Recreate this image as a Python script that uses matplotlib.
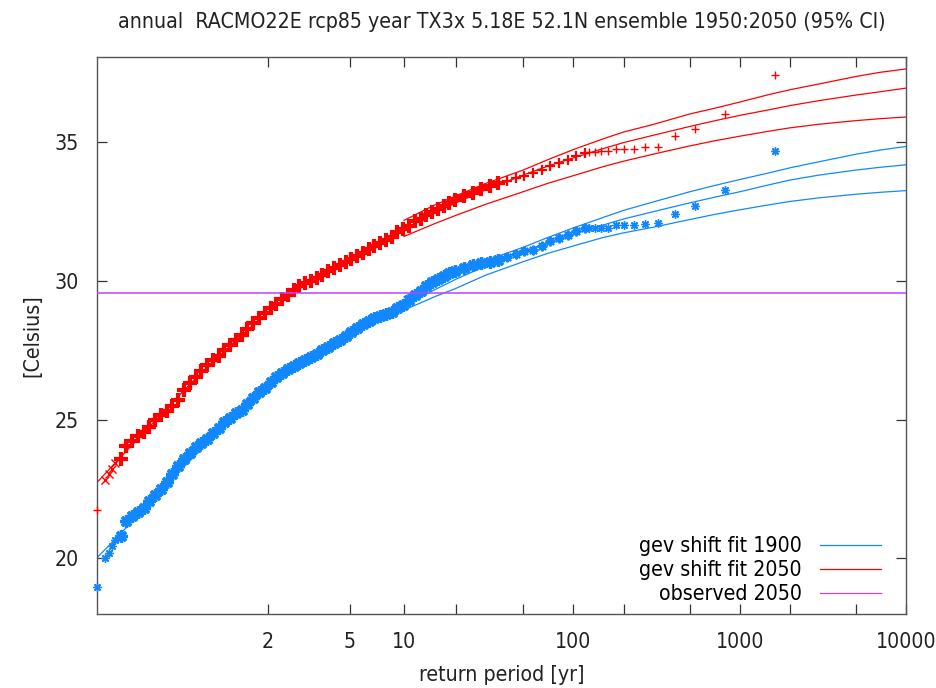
"""Return-period plot, RACMO22E rcp85 TX3x ensemble: GEV shift fits for 1900 and 2050."""
import numpy as np
import matplotlib

matplotlib.use("Agg")
import matplotlib.pyplot as plt
from matplotlib.lines import Line2D
from matplotlib.ticker import FixedLocator, FixedFormatter, NullLocator

RED = "#ff0000"
BLUE = "#1188ff"
PURPLE = "#c040ff"

# ranked ensemble values, plotted at their return period [yr]
period = [
    1.00062, 1.00124, 1.00186, 1.00248, 1.0031,
    1.0047, 1.0071, 1.0105, 1.0149, 1.0207, 1.0282, 1.0375, 1.0489, 1.0628, 1.0792,
    1.0986, 1.1211, 1.1470, 1.1766, 1.2101, 1.2479, 1.2903, 1.3374, 1.3898, 1.4478,
    1.5117, 1.5820, 1.6592, 1.7437, 1.8361, 1.9370, 2.0473, 2.1674, 2.2980, 2.4403,
    2.5950, 2.7628, 2.9456, 3.1440, 3.3591, 3.5927, 3.8459, 4.1190, 4.4178, 4.7407,
    5.0911, 5.4696, 5.8813, 6.3267, 6.8097, 7.3330, 7.9002, 8.5150, 9.1802, 9.9020,
    10.684, 11.531, 12.449, 13.443, 14.520, 15.686, 16.949, 18.318, 19.802, 22.26,
    25.04, 28.17, 31.70, 35.66, 40.15, 45.21, 50.89, 57.32, 64.56, 72.78,
    81.97, 92.34, 104.1, 117.2,
    124.4, 134.8, 147.0, 161.7, 179.7, 202.1, 231.0, 269.5, 323.4, 404.3, 539.0, 808.5, 1617.0,
]
obs_2050 = [
    21.76, 22.82, 23.05, 23.22, 23.45,
    23.57, 24.05, 24.22, 24.40, 24.56, 24.74, 24.98, 25.17, 25.30, 25.50,
    25.72, 26.05, 26.32, 26.52, 26.75, 26.96, 27.13, 27.30, 27.50, 27.68,
    27.86, 28.05, 28.25, 28.47, 28.66, 28.84, 29.00, 29.17, 29.33, 29.50,
    29.65, 29.80, 29.90, 30.00, 30.10, 30.21, 30.33, 30.45, 30.58, 30.68,
    30.78, 30.88, 31.01, 31.14, 31.25, 31.35, 31.46, 31.57, 31.74, 31.86,
    31.97, 32.13, 32.22, 32.36, 32.47, 32.57, 32.68, 32.78, 32.90, 33.04,
    33.17, 33.30, 33.40, 33.50, 33.59, 33.68, 33.77, 33.87, 33.98, 34.11,
    34.24, 34.36, 34.47, 34.58,
    34.62, 34.64, 34.65, 34.65, 34.75, 34.75, 34.75, 34.81, 34.81, 35.19, 35.47, 36.01, 37.41,
]
obs_1900 = [
    18.98, 20.00, 20.20, 20.45, 20.65,
    20.80, 21.35, 21.52, 21.66, 21.83, 22.06, 22.30, 22.50, 22.74, 23.04,
    23.32, 23.58, 23.80, 24.00, 24.14, 24.30, 24.50, 24.70, 24.90, 25.06,
    25.22, 25.36, 25.55, 25.78, 25.98, 26.15, 26.35, 26.52, 26.67, 26.82,
    26.93, 27.03, 27.13, 27.24, 27.37, 27.50, 27.62, 27.74, 27.87, 28.00,
    28.15, 28.30, 28.43, 28.56, 28.67, 28.74, 28.80, 28.86, 29.00, 29.14,
    29.32, 29.50, 29.64, 29.80, 29.94, 30.06, 30.16, 30.26, 30.35, 30.47,
    30.56, 30.62, 30.68, 30.75, 30.85, 30.97, 31.05, 31.11, 31.25, 31.41,
    31.54, 31.66, 31.77, 31.88,
    31.90, 31.90, 31.90, 31.90, 31.99, 31.99, 31.99, 32.04, 32.08, 32.40, 32.67, 33.25, 34.68,
]

# fitted return levels
fit_period = [
    1.0006, 1.003, 1.01, 1.03, 1.1, 1.2, 1.4, 1.6, 2, 2.5, 3, 4, 5, 7,
    10, 15, 20, 30, 50, 70, 100, 150, 200, 300, 500, 700, 1000, 1500, 2000, 3000,
    5000, 7000, 10000,
]
fit_2050 = [
    22.74, 23.42, 24.05, 24.78, 25.85, 26.62, 27.50, 28.08, 28.85, 29.47, 29.90, 30.45,
    30.82, 31.32, 31.85, 32.42, 32.80, 33.27, 33.80, 34.12, 34.42, 34.75, 34.97, 35.23,
    35.55, 35.75, 35.95, 36.15, 36.30, 36.48, 36.68, 36.80, 36.93,
]
fit_1900 = [
    20.03, 20.68, 21.30, 22.04, 23.10, 23.88, 24.76, 25.34, 26.10, 26.72, 27.15, 27.70,
    28.08, 28.58, 29.10, 29.67, 30.05, 30.53, 31.05, 31.37, 31.68, 32.00, 32.22, 32.48,
    32.80, 33.00, 33.20, 33.45, 33.62, 33.80, 33.98, 34.08, 34.17,
]
# 95% CI, drawn from 10 yr upward
ci_period = fit_period[14:]
lo_2050 = [31.59, 32.05, 32.35, 32.75, 33.20, 33.50, 33.78, 34.10, 34.30, 34.55,
           34.85, 35.03, 35.20, 35.38, 35.50, 35.63, 35.76, 35.83, 35.89]
hi_2050 = [32.17, 32.72, 33.05, 33.50, 33.98, 34.35, 34.72, 35.10, 35.35, 35.62,
           36.00, 36.20, 36.43, 36.70, 36.87, 37.08, 37.35, 37.50, 37.62]
lo_1900 = [28.94, 29.42, 29.72, 30.20, 30.68, 30.98, 31.25, 31.55, 31.72, 31.92,
           32.20, 32.38, 32.55, 32.73, 32.85, 32.98, 33.11, 33.18, 33.24]
hi_1900 = [29.42, 29.95, 30.27, 30.72, 31.20, 31.55, 31.90, 32.27, 32.53, 32.83,
           33.20, 33.42, 33.64, 33.88, 34.06, 34.28, 34.55, 34.70, 34.83]

observed_2050 = 29.56

tick_periods = [2, 5, 10, 20, 50, 100, 200, 500, 1000, 2000, 5000, 10000]
tick_labels = ["2", "5", "10", "", "", "100", "", "", "1000", "", "", "10000"]


def gumbel(t):
    t = np.clip(np.asarray(t, dtype=float), 1.0 + 1e-12, None)
    return -np.log(-np.log1p(-1.0 / t))


def gumbel_inv(g):
    g = np.asarray(g, dtype=float)
    return -1.0 / np.expm1(-np.exp(-g))


plt.rcParams["font.family"] = "DejaVu Sans"
plt.rcParams["font.stretch"] = "condensed"
FS = 15.3
INK = "#222222"

fig = plt.figure(figsize=(9.36, 6.88), dpi=100)
ax = fig.add_axes([97 / 936, 1 - 614 / 688, 809 / 936, 557 / 688])
ax.set_xscale("function", functions=(gumbel, gumbel_inv))

lw = 0.9
ax.plot(fit_period, fit_1900, color=BLUE, lw=lw, zorder=2)
ax.plot(ci_period, lo_1900, color=BLUE, lw=lw, zorder=2)
ax.plot(ci_period, hi_1900, color=BLUE, lw=lw, zorder=2)
ax.plot(fit_period, fit_2050, color=RED, lw=lw, zorder=2)
ax.plot(ci_period, lo_2050, color=RED, lw=lw, zorder=2)
ax.plot(ci_period, hi_2050, color=RED, lw=lw, zorder=2)

# the many ensemble points overlap into a ribbon at short return periods;
# draw that part with heavier markers
per = np.asarray(period)
blue_t = np.asarray(obs_1900)
red_t = np.asarray(obs_2050)
dense = (per > 1.004) & (per < 40)
mid = (per >= 40) & (per < 120)
sparse = ~(dense | mid)
red_sparse = sparse.copy()
red_sparse[1:5] = False

for mask, ms, mew in [(dense, 9.0, 2.4), (mid, 7.0, 1.5), (sparse, 6.0, 1.0)]:
    ax.plot(per[mask], blue_t[mask], ls="none", marker=(8, 2, 0), ms=ms, mew=mew,
            color=BLUE, zorder=3, clip_on=False)
for mask, ms, mew in [(dense, 10.0, 3.0), (mid, 7.5, 1.6), (red_sparse, 6.0, 1.0)]:
    ax.plot(per[mask], red_t[mask], ls="none", marker="+", ms=ms, mew=mew,
            color=RED, zorder=3, clip_on=False)
ax.plot(per[1:5], red_t[1:5], ls="none", marker="x", ms=5.5, mew=1.0,
        color=RED, zorder=3)

ax.axhline(observed_2050, color=PURPLE, lw=1.1, zorder=4)

ax.set_xlim(1.000592, 10000)
ax.set_ylim(18.0, 38.05)
ax.xaxis.set_major_locator(FixedLocator(tick_periods))
ax.xaxis.set_major_formatter(FixedFormatter(tick_labels))
ax.xaxis.set_minor_locator(NullLocator())
ax.set_yticks([20, 25, 30, 35])
ax.tick_params(direction="in", length=7, width=0.9, color="#333333",
               top=True, right=True, labelsize=FS, labelcolor=INK)
ax.tick_params(axis="x", pad=12.7)
ax.tick_params(axis="y", pad=13)
for s in ax.spines.values():
    s.set_color("#555555")
    s.set_linewidth(1.0)

ax.set_xlabel("return period [yr]", fontsize=FS, color=INK, labelpad=9.5)
ax.set_ylabel("[Celsius]", fontsize=FS, color=INK, labelpad=8.5)
ax.set_title("annual  RACMO22E rcp85 year TX3x 5.18E 52.1N ensemble 1950:2050 (95% CI)",
             fontsize=FS, color=INK, pad=21)

handles = [Line2D([], [], color=BLUE, lw=lw), Line2D([], [], color=RED, lw=lw),
           Line2D([], [], color=PURPLE, lw=lw)]
ax.legend(handles, ["gev shift fit 1900", "gev shift fit 2050", "observed 2050"],
          loc="lower right", bbox_to_anchor=(881 / 936, 1 - 604 / 688),
          bbox_transform=fig.transFigure, frameon=False, markerfirst=False,
          fontsize=FS, handlelength=2.87, handletextpad=0.85, labelspacing=0.18,
          borderpad=0, borderaxespad=0)

fig.savefig("out.png", dpi=100)
